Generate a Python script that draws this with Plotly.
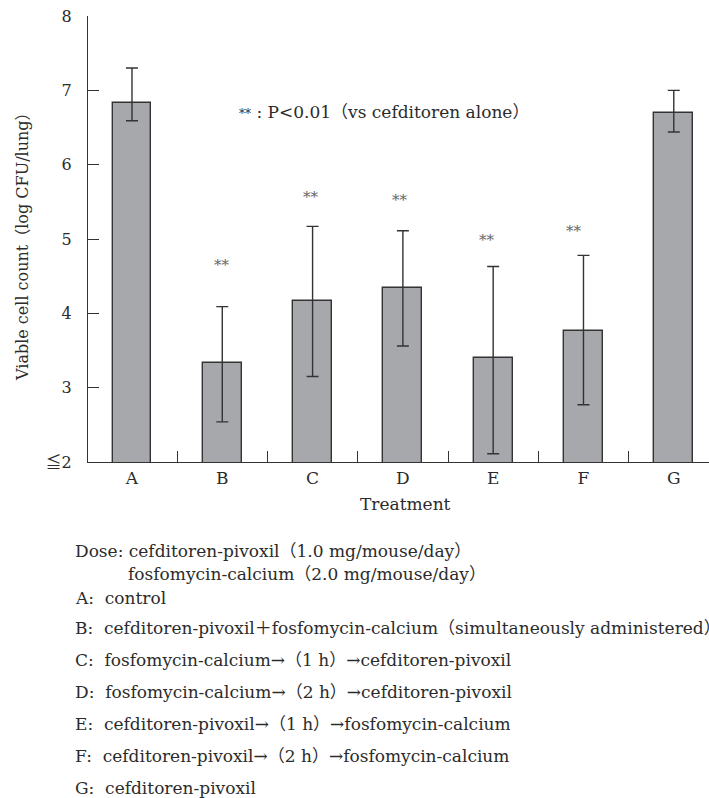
import plotly.graph_objects as go

# ---- data ----
categories = ["A", "B", "C", "D", "E", "F", "G"]
means = [6.83, 3.33, 4.17, 4.34, 3.40, 3.76, 6.69]
err_plus = [0.47, 0.76, 1.00, 0.77, 1.23, 1.02, 0.31]
err_minus = [0.24, 0.79, 1.02, 0.78, 1.29, 0.99, 0.25]
sig_labels = ["", "**", "**", "**", "**", "**", ""]
y_tick_vals = [2, 3, 4, 5, 6, 7, 8]
y_tick_text = ["≦2", "3", "4", "5", "6", "7", "8"]

legend_lines = [
    "Dose: cefditoren-pivoxil（1.0 mg/mouse/day）",
    "fosfomycin-calcium（2.0 mg/mouse/day）",
    "A:\u00a0\u00a0control",
    "B:\u00a0\u00a0cefditoren-pivoxil＋fosfomycin-calcium（simultaneously administered）",
    "C:\u00a0\u00a0fosfomycin-calcium→（1 h）→cefditoren-pivoxil",
    "D:\u00a0\u00a0fosfomycin-calcium→（2 h）→cefditoren-pivoxil",
    "E:\u00a0\u00a0cefditoren-pivoxil→（1 h）→fosfomycin-calcium",
    "F:\u00a0\u00a0cefditoren-pivoxil→（2 h）→fosfomycin-calcium",
    "G:\u00a0\u00a0cefditoren-pivoxil",
]

# ---- layout helpers (pixels) ----
W, H = 709, 798
L, R, T, B = 88, 0, 16, 336
pw, ph = W - L - R, H - T - B

def px(x):
    return (x - L) / pw

def py(y):
    return (H - B - y) / ph

FONT = "DejaVu Serif, Noto Sans CJK JP, serif"
INK = "#2b2b2b"

x_idx = list(range(len(categories)))

fig = go.Figure()
fig.add_trace(go.Bar(
    x=x_idx, y=means, width=0.43,
    marker=dict(color="#a7a8ab", line=dict(color="#333333", width=1.4)),
    error_y=dict(type="data", symmetric=False, array=err_plus, arrayminus=err_minus,
                 color="#333333", thickness=1.4, width=6),
    showlegend=False, hoverinfo="skip",
))

annotations = []
# significance marks
star_pos = [None, (0.0, 4.65), (-0.02, 5.56), (-0.03, 5.52), (-0.07, 4.99), (-0.11, 5.11), None]
for i, lab in enumerate(sig_labels):
    if lab and star_pos[i]:
        dx, yy = star_pos[i]
        annotations.append(dict(x=i + dx, y=yy, xref="x", yref="y", text=lab, showarrow=False,
                                xanchor="center", yanchor="middle",
                                font=dict(family=FONT, size=15, color="#666666")))

annotations.append(dict(
    x=px(384), y=py(112), xref="paper", yref="paper", showarrow=False,
    xanchor="center", yanchor="middle",
    text="<span style='font-size:12px'>**</span> : P&lt;0.01（vs cefditoren alone）",
    font=dict(family=FONT, size=17, color=INK)))

# axis titles
annotations.append(dict(x=px(22), y=py(243), xref="paper", yref="paper", showarrow=False,
                        xanchor="center", yanchor="middle",
                        textangle=-90, text="Viable cell count（log CFU/lung）",
                        font=dict(family=FONT, size=16, color=INK)))
annotations.append(dict(x=px(405), y=py(504), xref="paper", yref="paper", showarrow=False,
                        xanchor="center", yanchor="middle",
                        text="Treatment", font=dict(family=FONT, size=17, color=INK)))

# explanatory text lines
line_x = [73, 126, 73, 73, 73, 73, 73, 73, 73]
line_y = [551, 574, 598, 628, 660, 692, 724, 756, 788]
for t, lx, ly in zip(legend_lines, line_x, line_y):
    annotations.append(dict(x=px(lx), y=py(ly), xref="paper", yref="paper", showarrow=False,
                            xanchor="left", yanchor="middle", text=t,
                            font=dict(family=FONT, size=17, color=INK)))

fig.update_layout(
    width=W, height=H,
    margin=dict(l=L, r=R, t=T, b=B, pad=0),
    paper_bgcolor="white", plot_bgcolor="white",
    font=dict(family=FONT, color=INK),
    bargap=0,
    annotations=annotations,
    xaxis=dict(
        range=[-0.487, 6.39], tickmode="array", tickvals=x_idx, ticktext=categories,
        ticks="", showgrid=False, zeroline=False, showline=True,
        linecolor="#333333", linewidth=1.4,
        tickfont=dict(family=FONT, size=17, color=INK),
        minor=dict(tickmode="array", tickvals=[0.5, 1.5, 2.5, 3.5, 4.5, 5.5],
                   ticks="inside", ticklen=11, tickwidth=1.2, tickcolor="#333333", showgrid=False),
    ),
    yaxis=dict(
        range=[2, 8], tickmode="array", tickvals=y_tick_vals, ticktext=y_tick_text,
        ticks="inside", ticklen=11, tickwidth=1.2, tickcolor="#333333",
        showgrid=False, zeroline=False, showline=True, linecolor="#333333", linewidth=1.4,
        tickfont=dict(family=FONT, size=16, color=INK), ticklabelstandoff=12,
    ),
)

fig.write_html("out.html")
